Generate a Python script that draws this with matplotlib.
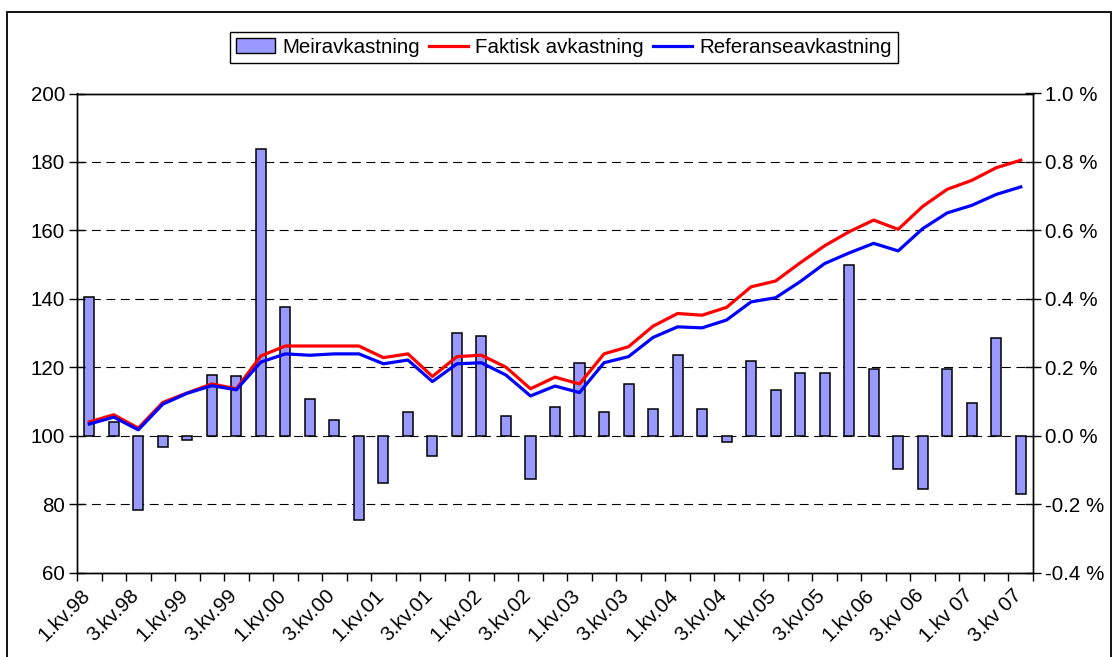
import numpy as np
import matplotlib
matplotlib.use("Agg")
import matplotlib.pyplot as plt
import matplotlib.transforms as mtransforms
from matplotlib.patches import Rectangle, Patch
from matplotlib.lines import Line2D

plt.rcParams['font.family'] = ['Liberation Sans', 'DejaVu Sans']

# Meiravkastning per kvartal (prosent, høgre akse)
meiravkastning = [0.406, 0.039, -0.218, -0.033, -0.013, 0.178, 0.174, 0.837, 0.376, 0.106,
                  0.047, -0.247, -0.137, 0.068, -0.060, 0.300, 0.292, 0.056, -0.128, 0.084,
                  0.212, 0.068, 0.152, 0.077, 0.237, 0.077, -0.020, 0.219, 0.132, 0.182,
                  0.182, 0.500, 0.195, -0.098, -0.157, 0.195, 0.094, 0.284, -0.170]

# Indeksert avkastning (venstre akse)
faktisk = [104.0, 106.1, 102.2, 109.7, 112.5, 115.1, 113.7, 123.3, 126.2, 126.2,
           126.2, 126.2, 122.8, 123.9, 117.3, 123.1, 123.5, 120.0, 113.7, 117.1,
           115.1, 123.9, 126.0, 132.0, 135.7, 135.2, 137.5, 143.5, 145.2, 150.5,
           155.5, 159.6, 163.0, 160.3, 167.0, 172.0, 174.6, 178.3, 180.5]
referanse = [103.4, 105.4, 101.7, 109.2, 112.4, 114.6, 113.4, 121.5, 123.9, 123.5,
             123.9, 123.9, 121.0, 122.1, 115.8, 121.0, 121.3, 117.7, 111.6, 114.5,
             112.6, 121.3, 123.1, 128.7, 131.8, 131.5, 133.8, 139.1, 140.3, 145.0,
             150.3, 153.4, 156.2, 154.0, 160.5, 165.1, 167.3, 170.5, 172.7]

tick_labels = ["1.kv.98", "3.kv.98", "1.kv.99", "3.kv.99", "1.kv.00", "3.kv.00",
               "1.kv.01", "3.kv.01", "1.kv.02", "3.kv.02", "1.kv.03", "3.kv.03",
               "1.kv.04", "3.kv.04", "1.kv.05", "3.kv.05", "1.kv.06", "3.kv 06",
               "1.kv 07", "3.kv 07"]

x = np.arange(len(meiravkastning))
fs = 14.8

fig = plt.figure(figsize=(11.14, 6.57), dpi=100)

# ytre ramme
fig.patches.append(Rectangle((7 / 1114, -0.05), 1104 / 1114, 1.05 - 12 / 657,
                             transform=fig.transFigure, fill=False,
                             edgecolor="black", lw=1.3))

ax = fig.add_axes([77 / 1114, (657 - 572.5) / 657, 956 / 1114, 479 / 657])
ax2 = ax.twinx()

# søyler på høgre akse, bak linjene
ax2.bar(x, meiravkastning, width=0.41, color="#9999FF", edgecolor="black", lw=1.1, zorder=2)
ax2.set_ylim(-0.4, 1.0)
ax2.set_yticks(np.arange(-0.4, 1.01, 0.2))
ax2.set_yticklabels([f"{v:.1f} %" for v in np.arange(-0.4, 1.01, 0.2)], fontsize=fs)
ax2.grid(axis="y", color="black", linestyle=(0, (8, 5)), lw=0.8)
ax2.set_axisbelow(True)
ax2.tick_params(axis="y", direction="inout", length=11, width=1, pad=3)

ax.set_zorder(ax2.get_zorder() + 1)
ax.patch.set_visible(False)
ax.plot(x, faktisk, color="#FF0000", lw=2.3, zorder=3)
ax.plot(x, referanse, color="#0000FF", lw=2.3, zorder=3)
ax.set_ylim(60, 200)
ax.set_yticks(np.arange(60, 201, 20))
ax.tick_params(axis="y", direction="inout", length=11, width=1, pad=3, labelsize=fs)

ax.set_xlim(-0.5, len(x) - 0.5)
ax.set_xticks(np.arange(-0.5, len(x)), labels=[])
ax.set_xticks(x[::2], minor=True)
ax.set_xticklabels(tick_labels, minor=True, rotation=45, ha="right", va="top",
                   rotation_mode="anchor", fontsize=fs)
ax.tick_params(axis="x", which="major", direction="out", length=6, width=1)
ax.tick_params(axis="x", which="minor", length=0, pad=4)
shift = mtransforms.ScaledTranslation(-9 / 100, -8 / 100, fig.dpi_scale_trans)
for lbl in ax.get_xticklabels(minor=True):
    lbl.set_transform(lbl.get_transform() + shift)
ax2.set_xlim(ax.get_xlim())

for a in (ax, ax2):
    for s in a.spines.values():
        s.set_color("black")
        s.set_linewidth(1)

handles = [Patch(facecolor="#9999FF", edgecolor="black", lw=1.0),
           Line2D([], [], color="#FF0000", lw=2.3),
           Line2D([], [], color="#0000FF", lw=2.3)]
fig.legend(handles, ["Meiravkastning", "Faktisk avkastning", "Referanseavkastning"],
           loc="center", bbox_to_anchor=(0.506, 0.928), ncol=3, fontsize=fs,
           frameon=True, fancybox=False, edgecolor="black", framealpha=1,
           handlelength=1.9, handletextpad=0.35, columnspacing=0.45,
           borderpad=0.3)

fig.savefig("out.png", dpi=100)
